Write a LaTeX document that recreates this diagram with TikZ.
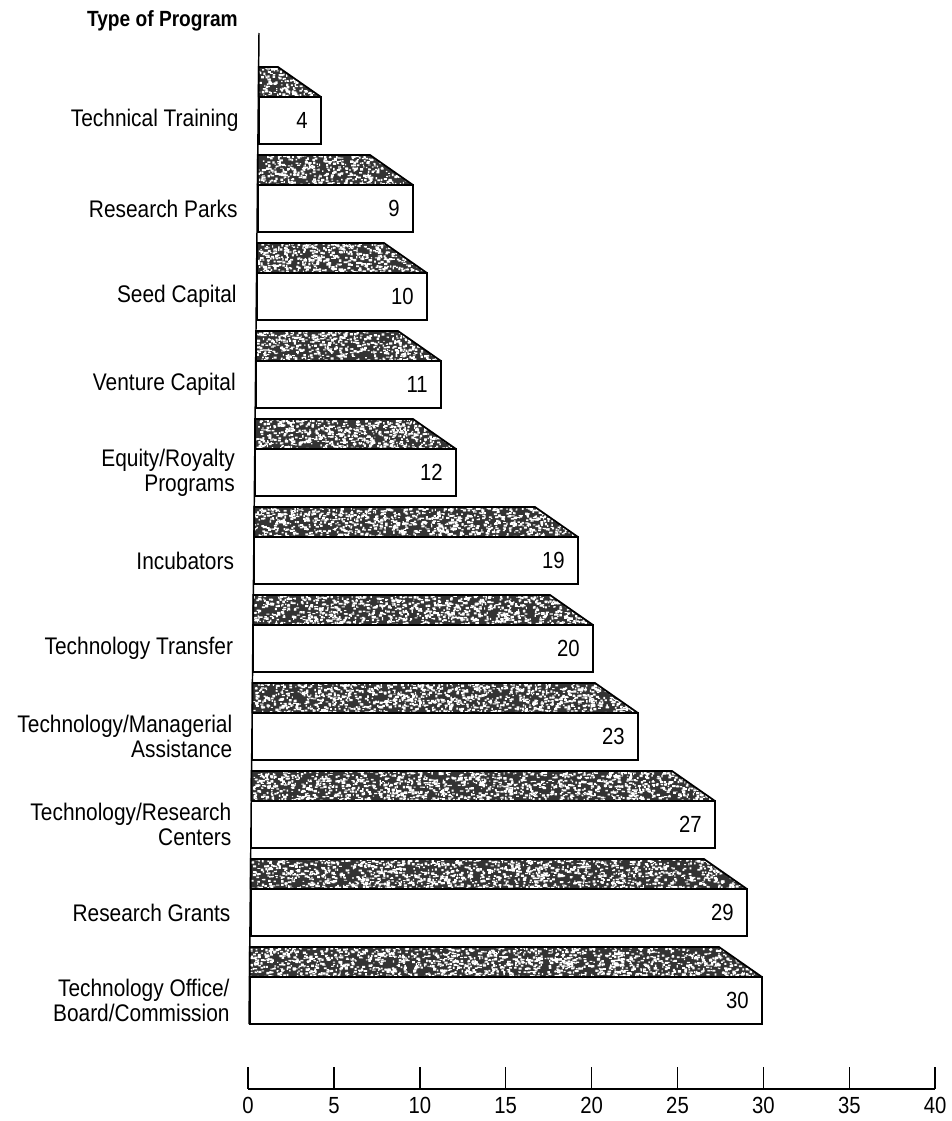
\documentclass[tikz,border=0pt]{standalone}
\usepackage{fontspec}
\setmainfont{Liberation Sans}[FakeStretch=0.87]
\begin{document}
\begin{tikzpicture}[x=0.75pt,y=-0.75pt,
  lbl/.style={font=\fontsize{18}{19}\selectfont, align=right, anchor=east, inner sep=0pt},
  num/.style={font=\fontsize{17.5}{19}\selectfont, anchor=east, inner sep=0pt},
  ticklbl/.style={font=\fontsize{17.5}{19}\selectfont, anchor=base, inner sep=0pt},
  edge/.style={draw=black, line width=1.3pt, line join=miter},
  stipple/.style={fill=black!80},
  speck/.style={fill=white},
  axisline/.style={line width=1.1pt},
]
\useasboundingbox (0,0) rectangle (951,1121);
\pgfmathsetseed{7}

% heading of the category axis
\node[font=\bfseries\fontsize{16.5}{19}\selectfont, anchor=east, inner sep=0pt] (title) at (238,21) {Type of Program};

% category axis
\coordinate (axtop) at (259,33);
\coordinate (axbot) at (249,1024);
\draw[axisline] (axtop) -- (axbot);

% bars: index / right end / value / label
\foreach \i/\r/\v/\txt in {
  0/321/4/{Technical Training},
  1/413/9/{Research Parks},
  2/427/10/{Seed Capital},
  3/441/11/{Venture Capital},
  4/456/12/{Equity/Royalty\\Programs},
  5/578/19/{Incubators},
  6/593/20/{Technology Transfer},
  7/638/23/{Technology/Managerial\\Assistance},
  8/715/27/{Technology/Research\\Centers},
  9/747/29/{Research Grants},
  10/762/30/{Technology Office/\\Board/Commission}}
{
  \pgfmathsetmacro\t{67+88*\i}
  \pgfmathsetmacro\l{259-(\t-33)*10/991}
  \pgfmathsetmacro\m{\t+30}
  \pgfmathsetmacro\b{\t+77}
  \pgfmathsetmacro\c{(\m+\b)/2}
  \pgfmathtruncatemacro\chunks{(\r-\l)*30*0.105/100+1}
  % stippled top face: dark ground with random light specks
  \begin{scope}
    \clip (\l,\t) -- ({\r-43},\t) -- (\r,\m) -- (\l,\m) -- cycle;
    \fill[stipple] (\l,\t) rectangle (\r,\m);
    \foreach \j in {1,...,\chunks} {
      \fill[speck] \foreach \k in {1,...,100} {
        ({\l+rnd*(\r-\l)},{\t+rnd*30}) rectangle ++({1+2.4*rnd},{0.9+1.6*rnd})
      };
    }
  \end{scope}
  \draw[edge] (\l,\m) -- (\l,\t) -- ({\r-43},\t) -- (\r,\m);
  % front face
  \draw[edge, fill=white] (\l,\m) rectangle (\r,\b);
  \node[num] (val\i) at ({\r-13},\c) {\v};
  \node[lbl] (cat\i) at ({\l-20},\c) {\txt};
}

% value axis
\draw[axisline] (248,1089) -- (935,1089);
\foreach \v in {0,5,...,40} {
  \pgfmathsetmacro\x{248+\v*17.18}
  \draw[axisline] (\x,1067) -- (\x,1089);
  \node[ticklbl] (tick\v) at (\x,1113) {\v};
}
\end{tikzpicture}
\end{document}
